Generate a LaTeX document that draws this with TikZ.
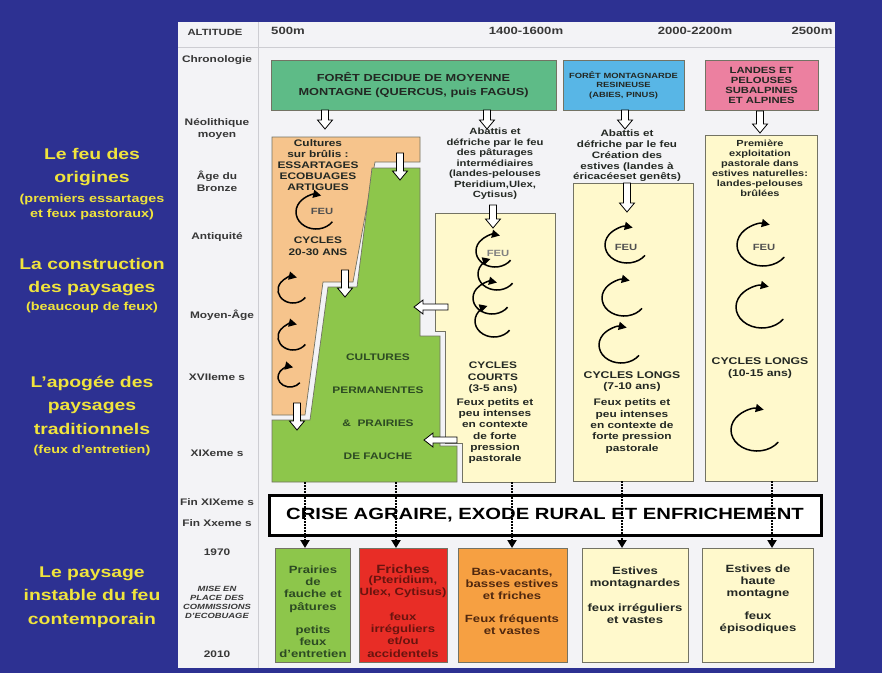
\documentclass[tikz,border=0pt]{standalone}
\usepackage{fontspec}
\setmainfont{Liberation Sans}[FakeStretch=1.25]
\usetikzlibrary{arrows.meta}
\definecolor{bgblue}{RGB}{45,49,146}
\definecolor{panel}{RGB}{243,243,246}
\definecolor{gridl}{RGB}{205,205,210}
\definecolor{ytext}{RGB}{240,228,60}
\definecolor{chrcol}{RGB}{55,55,55}
\definecolor{dtext}{RGB}{35,40,35}
\definecolor{topgreen}{RGB}{94,187,135}
\definecolor{topblue}{RGB}{88,182,230}
\definecolor{toppink}{RGB}{236,128,160}
\definecolor{orfill}{RGB}{246,196,140}
\definecolor{grfill}{RGB}{141,198,75}
\definecolor{cream}{RGB}{255,249,204}
\definecolor{redfill}{RGB}{232,45,38}
\definecolor{orbox}{RGB}{246,160,66}
\definecolor{edge}{RGB}{115,115,100}
\definecolor{grtext}{RGB}{45,75,35}
\definecolor{redtext}{RGB}{105,20,15}
\definecolor{ortext}{RGB}{80,40,15}
\definecolor{feucol}{RGB}{80,80,80}
% name, cx, cy, x radius, y radius, end angle
\newcommand\cycarrow[6]{%
  \coordinate (#1) at (#2,#3);
  \draw[cyc] (#1) ++(35:#4 and #5) arc[start angle=35, end angle=#6, x radius=#4, y radius=#5];}
\tikzset{
  ttl/.style={text=ytext, font=\bfseries\fontsize{15.5}{23.5}\selectfont, align=center, inner sep=0pt},
  sub/.style={text=ytext, font=\bfseries\fontsize{11.5}{15}\selectfont, align=center, inner sep=0pt},
  chr/.style={text=chrcol, font=\bfseries\fontsize{9.5}{12}\selectfont, align=center, inner sep=0pt},
  alt/.style={text=chrcol, font=\bfseries\fontsize{10.5}{12}\selectfont, inner sep=0pt},
  txt/.style={text=dtext, font=\bfseries\fontsize{9.5}{11}\selectfont, align=center, inner sep=0pt},
  btxt/.style={font=\bfseries\fontsize{10.5}{12.2}\selectfont, align=center, inner sep=0pt},
  feu/.style={text=feucol, font=\bfseries\fontsize{9}{10}\selectfont, inner sep=0pt},
  topbox/.style={draw=edge, line width=0.6pt, text=dtext, align=center, inner sep=0pt},
  region/.style={draw=edge, line width=0.7pt},
  boxnode/.style={draw=edge, line width=0.7pt, inner sep=0pt, anchor=north west},
  hollow/.style={draw=black, fill=white, line width=0.8pt},
  cyc/.style={line width=1.5pt, -{Triangle[length=8pt,width=8pt]}},
  dotarrow/.style={line width=2pt, dash pattern=on 1.5pt off 1.5pt, -{Triangle[length=8pt,width=9pt]}},
  pics/hdown/.style={code={\draw[hollow] (-3.5,0) -- (3.5,0) -- (3.5,{#1-9}) -- (7.5,{#1-9}) -- (0,#1) -- (-7.5,{#1-9}) -- (-3.5,{#1-9}) -- cycle;}},
  pics/hleft/.style={code={\draw[hollow] (0,0) -- (9,-7) -- (9,-3) -- (#1,-3) -- (#1,3) -- (9,3) -- (9,7) -- cycle;}}
}
\begin{document}
\begin{tikzpicture}[x=1pt,y=-1pt]
\useasboundingbox (0,0) rectangle (882,673);
\fill[bgblue] (0,0) rectangle (882,673);
\fill[panel] (178,22) rectangle (835,668);
\draw[gridl, line width=0.8pt] (178,47) -- (835,47);
\draw[gridl, line width=0.8pt] (258,22) -- (258,668);

% altitude row
\node[alt, font=\bfseries\fontsize{9}{10}\selectfont] (altlab) at (215,32) {ALTITUDE};
\node[alt] (a500) at (288,31) {500m};
\node[alt] (a1400) at (526,31) {1400-1600m};
\node[alt] (a2000) at (695,31) {2000-2200m};
\node[alt] (a2500) at (812,31) {2500m};

% chronology
\node[chr] (c0) at (217,60) {Chronologie};
\node[chr] (c1) at (217,129) {Néolithique\\moyen};
\node[chr] (c2) at (217,181) {Âge du\\Bronze};
\node[chr] (c3) at (217,237) {Antiquité};
\node[chr] (c4) at (222,315) {Moyen-Âge};
\node[chr] (c5) at (217,377) {XVIIeme s};
\node[chr] (c6) at (217,453) {XIXeme s};
\node[chr] (c7) at (217,502) {Fin XIXeme s};
\node[chr] (c8) at (217,523) {Fin Xxeme s};
\node[chr] (c9) at (217,552) {1970};
\node[chr, font=\bfseries\itshape\fontsize{7.5}{9}\selectfont] (c10) at (217,602) {MISE EN\\PLACE DES\\COMMISSIONS\\D'ECOBUAGE};
\node[chr] (c11) at (217,654) {2010};

% left titles
\node[ttl] (t1) at (92,167) {Le feu des\\origines};
\node[sub] (s1) at (92,207) {(premiers essartages\\et feux pastoraux)};
\node[ttl] (t2) at (92,277) {La construction\\des paysages};
\node[sub] (s2) at (92,308) {(beaucoup de feux)};
\node[ttl] (t3) at (92,405) {L'apogée des\\paysages\\traditionnels};
\node[sub] (s3) at (92,451) {(feux d'entretien)};
\node[ttl] (t4) at (92,597) {Le paysage\\instable du feu\\contemporain};

% top boxes
\node[topbox, fill=topgreen, minimum width=285pt, minimum height=50pt,
      font=\bfseries\fontsize{10.2}{13.5}\selectfont] (f1) at (413.5,85) {FORÊT DECIDUE DE MOYENNE\\MONTAGNE (QUERCUS, puis FAGUS)};
\node[topbox, fill=topblue, minimum width=121pt, minimum height=50pt,
      font=\bfseries\fontsize{7.5}{9.5}\selectfont] (f2) at (623.5,85) {FORÊT MONTAGNARDE\\RESINEUSE\\(ABIES, PINUS)};
\node[topbox, fill=toppink, minimum width=113pt, minimum height=50pt,
      font=\bfseries\fontsize{9}{10}\selectfont] (f3) at (761.5,85) {LANDES ET\\PELOUSES\\SUBALPINES\\ET ALPINES};

% orange region (cultures sur brulis)
\draw[region, fill=orfill] (272,137) -- (420,137) -- (420,162) -- (375,162) -- (353,282)
  -- (323,282) -- (305,415) -- (272,415) -- cycle;
% green region (cultures permanentes)
\draw[region, fill=grfill] (372,168) -- (420,168) -- (420,336) -- (440,336) -- (440,446)
  -- (457,446) -- (457,482) -- (272,482) -- (272,420) -- (310,420) -- (328,287)
  -- (357,287) -- cycle;
% yellow boxes
\draw[region, fill=cream] (435,213) -- (555,213) -- (555,482) -- (462,482) -- (462,443)
  -- (445,443) -- (445,331) -- (435,331) -- cycle;
\node[boxnode, fill=cream, minimum width=120pt, minimum height=298pt] (y2) at (573,183) {};
\node[boxnode, fill=cream, minimum width=112pt, minimum height=346pt] (y3) at (705,135) {};

% hollow arrows
\pic at (325,110) {hdown=19};
\pic at (487,110) {hdown=19};
\pic at (625,110) {hdown=19};
\pic at (760,111) {hdown=22};
\pic at (493,205) {hdown=23};
\pic at (627,183) {hdown=29};
\pic at (400,153) {hdown=27};
\pic at (345,270) {hdown=27};
\pic at (297,403) {hdown=27};
\pic at (414,307) {hleft=34};
\pic at (424,440) {hleft=33};

% texts: orange region
\node[txt] (or1) at (318,165) {Cultures\\sur brûlis :\\ESSARTAGES\\ECOBUAGES\\ARTIGUES};
\node[txt, font=\bfseries\fontsize{9.5}{12}\selectfont] (or2) at (318,246) {CYCLES\\20-30 ANS};
\cycarrow{o1}{316}{212}{20}{17}{285}
\node[feu] (feu1) at (322,211) {FEU};
\cycarrow{o2}{293}{290}{15}{13}{285}
\cycarrow{o3}{293}{337}{15}{13}{285}
\cycarrow{o4}{290}{377}{12}{10}{285}

% green region text
\node[txt, text=grtext, font=\bfseries\fontsize{9.5}{33}\selectfont] (gr1) at (378,407) {CULTURES\\PERMANENTES\\\&~~PRAIRIES\\DE FAUCHE};

% box 1
\node[txt, font=\bfseries\fontsize{9}{10.5}\selectfont] (ab1) at (495,164) {Abattis et\\défriche par le feu\\des pâturages\\intermédiaires\\(landes-pelouses\\Pteridium,Ulex,\\Cytisus)};
\cycarrow{p1}{495}{251}{19}{16}{285}
\cycarrow{p2}{497}{274}{19}{16}{250}
\cycarrow{p3}{492}{298}{19}{16}{285}
\cycarrow{p4}{494}{321}{19}{16}{250}
\node[feu, text=gray] (feu2) at (498,253) {FEU};
\node[txt, font=\bfseries\fontsize{9.5}{11.5}\selectfont] (cc1) at (493,378) {CYCLES\\COURTS\\(3-5 ans)};
\node[txt, font=\bfseries\fontsize{9.5}{11.2}\selectfont] (fx1) at (495,431) {Feux petits et\\peu intenses\\en contexte\\de forte\\pression\\pastorale};

% box 2
\node[txt, font=\bfseries\fontsize{9.3}{10.7}\selectfont] (ab2) at (627,156) {Abattis et\\défriche par le feu\\Création des\\estives (landes à\\éricacéeset genêts)};
\cycarrow{q1}{627}{245}{22}{18}{285}
\node[feu] (feu3) at (626,247) {FEU};
\cycarrow{q2}{624}{298}{22}{18}{285}
\cycarrow{q3}{621}{345}{22}{18}{285}
\node[txt, font=\bfseries\fontsize{9.8}{11}\selectfont] (cl2) at (632,382) {CYCLES LONGS\\(7-10 ans)};
\node[txt, font=\bfseries\fontsize{9.5}{11.3}\selectfont] (fx2) at (632,426) {Feux petits et\\peu intenses\\en contexte de\\forte pression\\pastorale};

% box 3
\node[txt, font=\bfseries\fontsize{8.8}{10}\selectfont] (pe3) at (760,168) {Première\\exploitation\\pastorale dans\\estives naturelles:\\landes-pelouses\\brûlées};
\cycarrow{r1}{763}{245}{26}{21}{285}
\node[feu] (feu4) at (764,247) {FEU};
\cycarrow{r2}{762}{307}{26}{21}{285}
\node[txt, font=\bfseries\fontsize{9.8}{12}\selectfont] (cl3) at (760,368) {CYCLES LONGS\\(10-15 ans)};
\cycarrow{r3}{757}{430}{26}{21}{285}

% crisis box
\node[draw=black, line width=3pt, fill=white, minimum width=552pt, minimum height=40pt, inner sep=0pt,
      text=black, font=\bfseries\fontsize{16.2}{18}\selectfont] (crise) at (545,515.5) {CRISE AGRAIRE, EXODE RURAL ET ENFRICHEMENT};

% bottom boxes
\node[boxnode, fill=grfill, minimum width=75pt, minimum height=114pt] (b1) at (275,548) {};
\node[boxnode, fill=redfill, minimum width=88pt, minimum height=114pt] (b2) at (359,548) {};
\node[boxnode, fill=orbox, minimum width=109pt, minimum height=114pt] (b3) at (458,548) {};
\node[boxnode, fill=cream, minimum width=106pt, minimum height=114pt] (b4) at (582,548) {};
\node[boxnode, fill=cream, minimum width=111pt, minimum height=114pt] (b5) at (702,548) {};

\node[btxt, text=grtext] (b1a) at (313,589) {Prairies\\de\\fauche et\\pâtures};
\node[btxt, text=grtext] (b1b) at (313,642) {petits\\feux\\d'entretien};
\node[btxt, text=redtext, font=\bfseries\fontsize{12}{13}\selectfont] (b2a) at (403,569) {Friches};
\node[btxt, text=redtext] (b2b) at (403,587) {(Pteridium,\\Ulex, Cytisus)};
\node[btxt, text=redtext] (b2c) at (403,635) {feux\\irréguliers\\et/ou\\accidentels};
\node[btxt, text=ortext] (b3a) at (512,584) {Bas-vacants,\\basses estives\\et friches};
\node[btxt, text=ortext] (b3b) at (512,625) {Feux fréquents\\et vastes};
\node[btxt, text=dtext] (b4a) at (635,578) {Estives\\montagnardes};
\node[btxt, text=dtext] (b4b) at (635,614) {feux irréguliers\\et vastes};
\node[btxt, text=dtext] (b5a) at (758,582) {Estives de\\haute\\montagne};
\node[btxt, text=dtext] (b5b) at (758,623) {feux\\épisodiques};

% dotted connectors
\coordinate (g1) at (305,482);
\coordinate (g2) at (396,482);
\coordinate (g3) at (512,482);
\coordinate (g4) at (622,481);
\coordinate (g5) at (772,481);
\draw[dotarrow] (g1) -- (g1 |- b1.north);
\draw[dotarrow] (g2) -- (g2 |- b2.north);
\draw[dotarrow] (g3) -- (g3 |- b3.north);
\draw[dotarrow] (g4) -- (g4 |- b4.north);
\draw[dotarrow] (g5) -- (g5 |- b5.north);
\end{tikzpicture}
\end{document}
